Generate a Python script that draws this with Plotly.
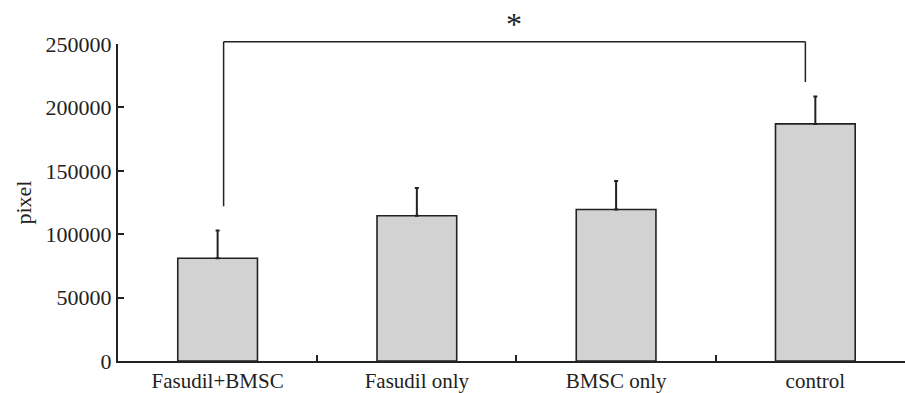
import plotly.graph_objects as go

categories = ["Fasudil+BMSC", "Fasudil only", "BMSC only", "control"]
values = [81000, 114500, 119500, 187000]
errors = [22000, 22000, 22500, 21500]
y_ticks = [0, 50000, 100000, 150000, 200000, 250000]
y_max = 250000

# significance bracket between first and last group
bracket_left_bottom = 122000
bracket_right_bottom = 220000
bracket_top = 251800
bracket_label = "*"

FONT = "Liberation Serif"
INK = "#222222"

fig = go.Figure()
fig.add_trace(go.Bar(
    x=list(range(len(categories))),
    y=values,
    width=0.40,
    marker=dict(color="#d2d2d2", line=dict(color=INK, width=1.6)),
    error_y=dict(type="data", array=errors, arrayminus=[0] * len(errors),
                 symmetric=False, color=INK, thickness=2, width=2),
    showlegend=False,
))

xl = 0 + 0.03
xr = len(categories) - 1 - 0.05
def py(v):
    return v / y_max

line = dict(color=INK, width=1.5)
fig.add_shape(type="line", xref="x", yref="paper", x0=xl, x1=xl,
              y0=py(bracket_left_bottom), y1=py(bracket_top), line=line)
fig.add_shape(type="line", xref="x", yref="paper", x0=xl, x1=xr,
              y0=py(bracket_top), y1=py(bracket_top), line=line)
fig.add_shape(type="line", xref="x", yref="paper", x0=xr, x1=xr,
              y0=py(bracket_right_bottom), y1=py(bracket_top), line=line)
fig.add_annotation(x=(xl + xr) / 2, y=py(bracket_top), xref="x", yref="paper",
                   text=bracket_label, showarrow=False, yanchor="bottom",
                   yshift=-2, font=dict(family=FONT, size=32, color=INK))

fig.update_layout(
    width=905, height=393,
    margin=dict(l=118, r=0, t=44, b=30),
    paper_bgcolor="white", plot_bgcolor="white",
    font=dict(family=FONT, size=21, color=INK),
    bargap=0.6,
)
fig.update_xaxes(
    range=[-0.5, 3.45],
    tickmode="array", tickvals=list(range(len(categories))), ticktext=categories,
    showgrid=False, zeroline=False,
    showline=True, linecolor=INK, linewidth=2,
    ticks="", tickfont=dict(family=FONT, size=21, color=INK),
    minor=dict(tickmode="array", tickvals=[0.5, 1.5, 2.5], ticks="inside",
               ticklen=6, tickwidth=2, tickcolor=INK, showgrid=False),
)
fig.update_yaxes(
    range=[0, y_max],
    tickmode="array", tickvals=y_ticks, ticktext=[str(t) for t in y_ticks],
    showgrid=False, zeroline=False,
    showline=True, linecolor=INK, linewidth=2,
    ticks="inside", ticklen=6, tickwidth=2, tickcolor=INK,
    tickfont=dict(family=FONT, size=22, color=INK),
    title=dict(text="pixel", font=dict(family=FONT, size=22, color=INK), standoff=8),
)

fig.write_html("out.html")
